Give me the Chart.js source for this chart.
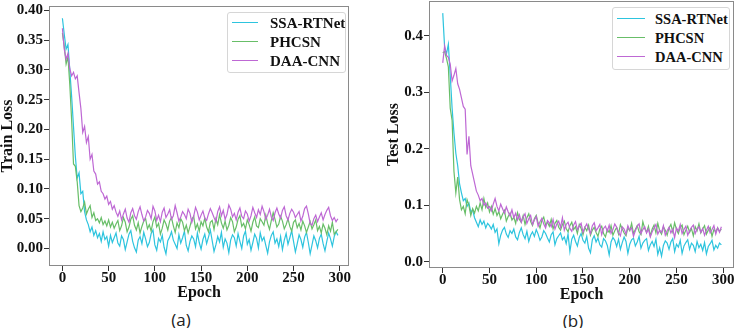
<!DOCTYPE html>
<html>
<head>
<meta charset="utf-8">
<script src="https://cdn.jsdelivr.net/npm/chart.js@4.4.1/dist/chart.umd.min.js"></script>
<style>
  html, body { margin: 0; padding: 0; background: #fff; }
  #wrap { position: relative; width: 738px; height: 328px; overflow: hidden; }
  .panel { position: absolute; top: 0; }
  .legend {
    position: absolute; border: 1px solid #d6d6d6; border-radius: 3px; background: #fff;
    font: bold 15px "Liberation Serif", serif; color: #111; box-sizing: border-box;
  }
  .legend .row { position: absolute; left: 0; right: 0; height: 18px; }
  .legend .sw { position: absolute; top: 8px; height: 0; border-top: 1.5px solid; }
  .legend .tx { position: absolute; top: 0; line-height: 18px; white-space: nowrap; }
  .cap { position: absolute; font: 17px "Open Sans", sans-serif; color: #222; transform: translate(-50%, -50%); }
</style>
</head>
<body>
<div id="wrap">
  <div class="panel" style="left:0;width:369px;height:302px"><canvas id="trainChart" width="369" height="302"></canvas></div>
  <div class="panel" style="left:370px;width:368px;height:304px"><canvas id="testChart" width="368" height="304"></canvas></div>
  <div id="legendTrain" class="legend" style="left:227px;top:12px;width:119px;height:61px"></div>
  <div id="legendTest" class="legend" style="left:612px;top:7px;width:118px;height:63px;font-size:14.5px"></div>
  <div class="cap" style="left:181px;top:319px">(a)</div>
  <div class="cap" style="left:573px;top:320px">(b)</div>
</div>
<script>
// epochs sampled every 2
const EPOCHS = Array.from({ length: 150 }, (_, i) => i * 2);
const SERIES_NAMES = ['SSA-RTNet', 'PHCSN', 'DAA-CNN'];
const SERIES_COLORS = ['rgb(45,196,222)', 'rgb(104,190,104)', 'rgb(190,104,212)'];

const X_TICKS = [0, 50, 100, 150, 200, 250, 300];
const TRAIN_Y_TICKS = [0, 0.05, 0.10, 0.15, 0.20, 0.25, 0.30, 0.35, 0.40];
const TEST_Y_TICKS = [0, 0.1, 0.2, 0.3, 0.4];

const trainSSA = [
  0.387, 0.360, 0.335, 0.343, 0.300, 0.255, 0.205, 0.155, 0.118, 0.127,
  0.092, 0.096, 0.062, 0.048, 0.040, 0.028, 0.036, 0.022, 0.030, 0.018,
  0.025, 0.012, 0.028, 0.015, 0.020, 0.004, 0.022, 0.010,
  0.018, 0.026, 0.009, 0.004, 0.021, 0.015, -0.002, 0.011, 0.024, 0.030,
  0.012, 0.001, -0.006, 0.014, 0.020, 0.008, 0.027, 0.016, 0.003, 0.010,
  0.025, 0.031, 0.006, -0.003, 0.017, 0.011, 0.022, 0.002, -0.009, 0.013,
  0.019, 0.028, 0.014, 0.007, 0.000, 0.023, 0.009, 0.018, 0.029, 0.005,
  -0.004, 0.012, 0.021, 0.016, 0.003, 0.026, 0.010, -0.001, 0.015, 0.024,
  0.008, 0.019, 0.031, 0.013, -0.005, 0.006, 0.020, 0.011, 0.027, 0.002,
  0.016, 0.009, -0.007, 0.014, 0.023, 0.018, 0.004, 0.025, 0.012, 0.000,
  0.021, 0.029, 0.007, 0.015, -0.003, 0.010, 0.024, 0.017, 0.001, 0.026,
  0.013, 0.019, 0.005, -0.008, 0.011, 0.022, 0.028, 0.009, 0.016, 0.003,
  0.020, -0.002, 0.014, 0.025, 0.007, 0.018, 0.030, 0.012, -0.006, 0.008,
  0.023, 0.015, 0.002, 0.019, 0.027, 0.010, -0.009, 0.006, 0.021, 0.013,
  0.001, 0.017, 0.024, 0.008, -0.004, 0.012, 0.026, 0.016, 0.004, 0.020,
  0.028, 0.022
];
const trainPHCSN = [
  0.362, 0.340, 0.310, 0.322, 0.275, 0.215, 0.142, 0.138, 0.112, 0.072,
  0.062, 0.068, 0.078, 0.058, 0.066, 0.072, 0.052, 0.060, 0.047, 0.050,
  0.043, 0.052, 0.040, 0.046, 0.038, 0.048, 0.036, 0.044,
  0.034, 0.041, 0.047, 0.030, 0.038, 0.052, 0.044, 0.028, 0.036, 0.049,
  0.055, 0.039, 0.031, 0.043, 0.026, 0.037, 0.046, 0.050, 0.033, 0.040,
  0.029, 0.045, 0.053, 0.036, 0.042, 0.024, 0.034, 0.048, 0.041, 0.031,
  0.046, 0.052, 0.038, 0.027, 0.043, 0.035, 0.050, 0.044, 0.030, 0.039,
  0.026, 0.037, 0.049, 0.054, 0.033, 0.041, 0.029, 0.045, 0.038, 0.051,
  0.036, 0.028, 0.044, 0.047, 0.032, 0.050, 0.040, 0.057, 0.043, 0.034,
  0.046, 0.031, 0.039, 0.052, 0.045, 0.028, 0.036, 0.049, 0.055, 0.037,
  0.042, 0.033, 0.048, 0.040, 0.029, 0.044, 0.053, 0.038, 0.035, 0.050,
  0.045, 0.039, 0.056, 0.042, 0.032, 0.047, 0.060, 0.049, 0.036, 0.041,
  0.054, 0.046, 0.033, 0.040, 0.050, 0.037, 0.029, 0.044, 0.048, 0.035,
  0.042, 0.031, 0.046, 0.038, 0.027, 0.036, 0.045, 0.033, 0.040, 0.048,
  0.030, 0.037, 0.026, 0.041, 0.034, 0.023, 0.038, 0.029, 0.044, 0.024,
  0.028, 0.032
];
const trainDAA = [
  0.370, 0.335, 0.318, 0.328, 0.302, 0.290, 0.296, 0.285, 0.290, 0.262,
  0.235, 0.195, 0.205, 0.178, 0.188, 0.150, 0.158, 0.130, 0.125, 0.108,
  0.112, 0.096, 0.092, 0.083, 0.088, 0.074, 0.079, 0.066,
  0.072, 0.061, 0.054, 0.063, 0.048, 0.058, 0.066, 0.051, 0.044, 0.060,
  0.067, 0.055, 0.049, 0.062, 0.070, 0.057, 0.046, 0.053, 0.064, 0.059,
  0.050, 0.071, 0.063, 0.047, 0.056, 0.045, 0.061, 0.068, 0.052, 0.058,
  0.065, 0.049, 0.055, 0.072, 0.060, 0.046, 0.053, 0.062, 0.057, 0.050,
  0.066, 0.059, 0.044, 0.054, 0.069, 0.061, 0.048, 0.056, 0.063, 0.051,
  0.047, 0.058, 0.067, 0.060, 0.052, 0.045, 0.062, 0.070, 0.055, 0.064,
  0.049, 0.057, 0.073, 0.066, 0.053, 0.059, 0.048, 0.061, 0.068, 0.054,
  0.050, 0.063, 0.058, 0.046, 0.055, 0.069, 0.060, 0.052, 0.065, 0.057,
  0.071, 0.062, 0.049, 0.056, 0.066, 0.053, 0.047, 0.060, 0.068, 0.058,
  0.051, 0.064, 0.070, 0.055, 0.048, 0.059, 0.066, 0.061, 0.052, 0.057,
  0.062, 0.046, 0.054, 0.067, 0.071, 0.058, 0.042, 0.039, 0.050, 0.056,
  0.045, 0.053, 0.060, 0.048, 0.057, 0.064, 0.069, 0.055, 0.047, 0.052,
  0.045, 0.050
];

const testSSA = [
  0.440, 0.380, 0.368, 0.385, 0.330, 0.272, 0.228, 0.192, 0.170, 0.138,
  0.122, 0.108, 0.112, 0.098, 0.104, 0.088, 0.092, 0.078, 0.070, 0.062,
  0.074, 0.066, 0.072, 0.060, 0.068, 0.064, 0.058, 0.066,
  0.052, 0.058, 0.032, 0.047, 0.056, 0.061, 0.049, 0.043, 0.055, 0.050,
  0.058, 0.044, 0.039, 0.052, 0.060, 0.048, 0.041, 0.054, 0.036, 0.047,
  0.053, 0.045, 0.057, 0.049, 0.038, 0.044, 0.055, 0.050, 0.042, 0.035,
  0.048, 0.053, 0.030, 0.041, 0.046, 0.051, 0.039, 0.044, 0.032, 0.049,
  0.018, 0.040, 0.047, 0.036, 0.028, 0.043, 0.050, 0.038, 0.033, 0.045,
  0.024, 0.016, 0.039, 0.046, 0.035, 0.042, 0.030, 0.026, 0.041, 0.037,
  0.029, 0.012, 0.035, 0.043, 0.038, 0.027, 0.040, 0.022, 0.034, 0.044,
  0.036, 0.015, 0.031, 0.039, 0.042, 0.028, 0.035, 0.045, 0.024, 0.033,
  0.038, 0.041, 0.020, 0.030, 0.036, 0.027, 0.040, 0.013, 0.025, 0.010,
  0.029, 0.037, 0.033, 0.022, 0.035, 0.041, 0.018, 0.031, 0.026, 0.038,
  0.015, 0.028, 0.034, 0.039, 0.022, 0.033, 0.029, 0.018, 0.036, 0.025,
  0.031, 0.020, 0.034, 0.014, 0.027, 0.032, 0.038, 0.021, 0.029, 0.024,
  0.033, 0.030
];
const testPHCSN = [
  0.370, 0.372, 0.360, 0.345, 0.272, 0.250, 0.160, 0.122, 0.150, 0.110,
  0.092, 0.098, 0.085, 0.110, 0.100, 0.082, 0.094, 0.086, 0.098, 0.090,
  0.104, 0.092, 0.112, 0.096, 0.104, 0.088, 0.098, 0.084,
  0.094, 0.082, 0.089, 0.076, 0.084, 0.091, 0.072, 0.080, 0.086, 0.074,
  0.079, 0.068, 0.087, 0.075, 0.070, 0.082, 0.066, 0.078, 0.085, 0.071,
  0.064, 0.076, 0.082, 0.069, 0.060, 0.073, 0.079, 0.065, 0.070, 0.063,
  0.075, 0.058, 0.068, 0.073, 0.061, 0.056, 0.066, 0.072, 0.059, 0.053,
  0.064, 0.070, 0.057, 0.062, 0.050, 0.066, 0.059, 0.048, 0.061, 0.055,
  0.065, 0.047, 0.056, 0.061, 0.052, 0.045, 0.058, 0.063, 0.050, 0.044,
  0.057, 0.052, 0.064, 0.047, 0.055, 0.061, 0.049, 0.066, 0.058, 0.051,
  0.046, 0.060, 0.055, 0.068, 0.050, 0.057, 0.064, 0.053, 0.048, 0.071,
  0.059, 0.052, 0.063, 0.046, 0.058, 0.065, 0.051, 0.068, 0.055, 0.049,
  0.062, 0.056, 0.047, 0.060, 0.066, 0.053, 0.069, 0.057, 0.050, 0.061,
  0.065, 0.048, 0.056, 0.063, 0.052, 0.059, 0.046, 0.062, 0.055, 0.067,
  0.051, 0.058, 0.064, 0.049, 0.056, 0.061, 0.045, 0.057, 0.053, 0.060,
  0.054, 0.058
];
const testDAA = [
  0.352, 0.382, 0.365, 0.362, 0.350, 0.320, 0.330, 0.342, 0.315, 0.305,
  0.290, 0.275, 0.270, 0.190, 0.222, 0.170, 0.155, 0.140, 0.125, 0.118,
  0.108, 0.112, 0.100, 0.104, 0.095, 0.098, 0.090, 0.102,
  0.112, 0.098, 0.090, 0.102, 0.094, 0.086, 0.097, 0.088, 0.081, 0.092,
  0.078, 0.086, 0.074, 0.083, 0.070, 0.079, 0.085, 0.068, 0.076, 0.082,
  0.066, 0.074, 0.080, 0.063, 0.071, 0.077, 0.067, 0.060, 0.073, 0.069,
  0.062, 0.075, 0.058, 0.067, 0.072, 0.061, 0.078, 0.056, 0.066, 0.070,
  0.059, 0.054, 0.065, 0.071, 0.057, 0.063, 0.068, 0.052, 0.061, 0.067,
  0.058, 0.050, 0.064, 0.069, 0.055, 0.060, 0.066, 0.048, 0.059, 0.063,
  0.054, 0.065, 0.050, 0.057, 0.067, 0.061, 0.052, 0.046, 0.062, 0.058,
  0.049, 0.064, 0.056, 0.060, 0.045, 0.055, 0.063, 0.067, 0.050, 0.057,
  0.062, 0.051, 0.058, 0.044, 0.053, 0.060, 0.066, 0.049, 0.056, 0.052,
  0.064, 0.047, 0.055, 0.061, 0.051, 0.058, 0.043, 0.060, 0.054, 0.066,
  0.050, 0.057, 0.063, 0.047, 0.055, 0.061, 0.065, 0.050, 0.058, 0.062,
  0.052, 0.059, 0.047, 0.056, 0.063, 0.051, 0.057, 0.064, 0.049, 0.060,
  0.052, 0.062
];

Chart.defaults.font.family = '"Liberation Serif", "Times New Roman", serif';
Chart.defaults.color = '#111';

// full box round the plot area, like matplotlib spines
const frame = {
  id: 'frame',
  afterDraw(chart) {
    const { ctx, chartArea: a } = chart;
    ctx.save();
    ctx.strokeStyle = '#8a8a8a';
    ctx.lineWidth = 1;
    ctx.strokeRect(Math.round(a.left) + 0.5, Math.round(a.top) + 0.5,
      Math.round(a.width) - 1, Math.round(a.height) - 1);
    ctx.restore();
  }
};

function makeLossChart(canvasId, seriesList, cfg) {
  const datasets = seriesList.map((values, i) => ({
    label: SERIES_NAMES[i],
    data: values,
    borderColor: SERIES_COLORS[i],
    borderWidth: 1.2,
    pointRadius: 0,
    tension: 0,
    fill: false,
    order: 3 - i
  }));

  const noPad = s => { s.paddingTop = 0; s.paddingBottom = 0; s.paddingLeft = 0; s.paddingRight = 0; };

  return new Chart(document.getElementById(canvasId), {
    type: 'line',
    data: { labels: EPOCHS, datasets },
    options: {
      responsive: false,
      animation: false,
      devicePixelRatio: 1,
      layout: { padding: cfg.padding },
      plugins: { legend: { display: false }, tooltip: { enabled: false } },
      scales: {
        x: {
          type: 'linear',
          min: cfg.xMin,
          max: cfg.xMax,
          border: { display: false },
          grid: { drawOnChartArea: false, drawTicks: true, tickLength: 5, color: '#333' },
          ticks: { font: { size: 15, weight: 'bold', lineHeight: 1 }, padding: 0, color: '#111', maxRotation: 0 },
          afterBuildTicks: s => { s.ticks = X_TICKS.map(v => ({ value: v })); },
          afterFit: s => { s.height = cfg.xHeight; noPad(s); },
          title: { display: true, text: 'Epoch', font: { size: 16, weight: 'bold', lineHeight: 1 }, padding: { top: 0, bottom: 1 }, color: '#111' }
        },
        y: {
          type: 'linear',
          min: cfg.yMin,
          max: cfg.yMax,
          border: { display: false },
          grid: { drawOnChartArea: false, drawTicks: true, tickLength: 5, color: '#333' },
          ticks: {
            font: { size: 15, weight: 'bold', lineHeight: 1 }, padding: 1, color: '#111',
            callback: v => v.toFixed(cfg.yDecimals)
          },
          afterBuildTicks: s => { s.ticks = cfg.yTicks.map(v => ({ value: v })); },
          afterFit: s => { s.width = cfg.yWidth; noPad(s); },
          title: { display: true, text: cfg.yTitle, font: { size: 16, weight: 'bold', lineHeight: 1 }, padding: { top: cfg.yTitlePad, bottom: 0 }, color: '#111' }
        }
      }
    },
    plugins: [frame]
  });
}

function buildLegend(elId, chart, rows) {
  const box = document.getElementById(elId);
  chart.data.datasets.forEach((ds, i) => {
    const row = document.createElement('div');
    row.className = 'row';
    row.style.top = rows.top[i] + 'px';
    const sw = document.createElement('div');
    sw.className = 'sw';
    sw.style.left = rows.swLeft + 'px';
    sw.style.width = rows.swWidth + 'px';
    sw.style.borderTopColor = ds.borderColor;
    const tx = document.createElement('div');
    tx.className = 'tx';
    tx.style.left = rows.txLeft + 'px';
    tx.textContent = ds.label;
    row.appendChild(sw);
    row.appendChild(tx);
    box.appendChild(row);
  });
}

const trainChart = makeLossChart('trainChart', [trainSSA, trainPHCSN, trainDAA], {
  padding: { left: 0, top: 6, right: 20, bottom: 0 },
  xMin: -14.5, xMax: 310,
  yMin: -0.0295, yMax: 0.4075,
  yTicks: TRAIN_Y_TICKS, yDecimals: 2,
  yWidth: 49, xHeight: 36,
  yTitle: 'Train Loss', yTitlePad: 0
});

const testChart = makeLossChart('testChart', [testSSA, testPHCSN, testDAA], {
  padding: { left: 0, top: 1, right: 4, bottom: 0 },
  xMin: -14.7, xMax: 311.5,
  yMin: -0.011, yMax: 0.4615,
  yTicks: TEST_Y_TICKS, yDecimals: 1,
  yWidth: 59, xHeight: 36,
  yTitle: 'Test Loss', yTitlePad: 16
});

buildLegend('legendTrain', trainChart, { top: [1, 20, 39], swLeft: 4, swWidth: 26, txLeft: 42 });
buildLegend('legendTest', testChart, { top: [2, 21, 40], swLeft: 4, swWidth: 28, txLeft: 42 });
</script>
</body>
</html>
